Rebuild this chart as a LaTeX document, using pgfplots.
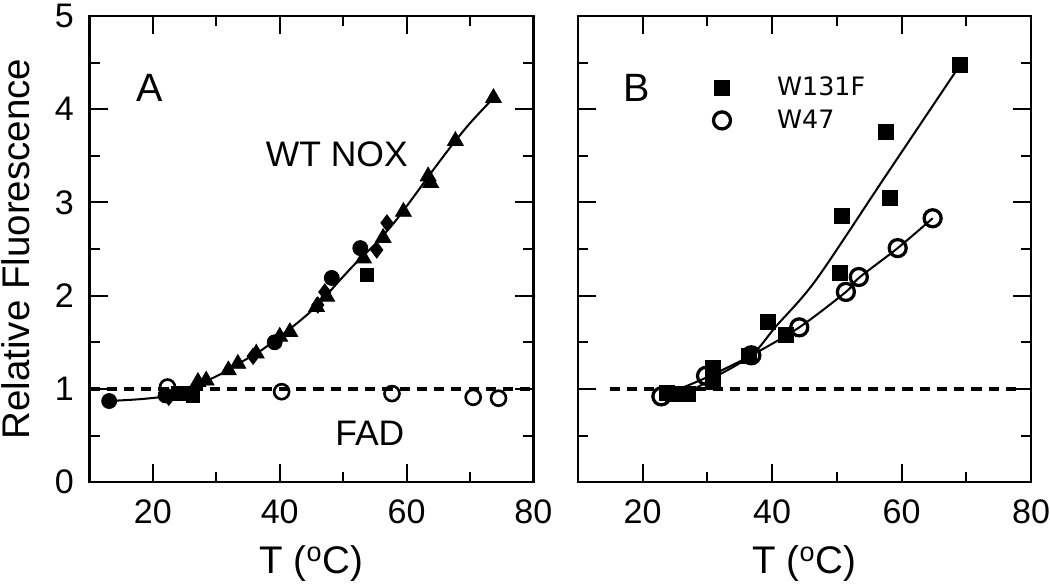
\documentclass[border=0pt]{standalone}
\usepackage{pgfplots}
\pgfplotsset{compat=1.18}
\usepackage{fontspec}
\setmainfont{Liberation Sans}
\newfontfamily\legfont{DejaVu Sans}
\begin{document}
\begin{tikzpicture}
\pgfplotsset{
  panel/.style={
    scale only axis, height=230pt,
    xmin=10, xmax=80, ymin=0, ymax=5,
    xtick={20,40,60,80}, minor xtick={30,50,70},
    ytick={0,1,2,3,4,5}, minor ytick={0.5,1.5,2.5,3.5,4.5},
    tick align=inside, major tick length=9pt, minor tick length=5pt,
    axis line style={line width=1.2pt},
    every tick/.style={black, line width=1pt},
    tick label style={font=\fontsize{16.8}{19}\selectfont, inner sep=0pt},
    xticklabel style={yshift=-8.4pt},
    yticklabel style={xshift=-7.5pt, inner ysep=2pt},
    /pgf/number format/assume math mode=true,
    label style={font=\fontsize{19}{22}\selectfont, inner sep=0pt},
    xlabel={T (\textsuperscript{o}C)},
    xlabel style={at={(axis description cs:0.5,0)}, anchor=base, yshift=-45.3pt, inner ysep=1.5pt},
  },
  fit/.style={black, line width=1pt, smooth, no marks},
  ref/.style={black, line width=2pt, dash pattern=on 5pt off 3.5pt, no marks},
}
% ---------- panel A ----------
\begin{axis}[panel, width=219pt, ylabel={Relative Fluorescence},
  ylabel style={at={(axis description cs:0,0.5)}, anchor=south, inner ysep=1pt, yshift=28pt}]
\addplot[ref] coordinates {(10,1) (80,1)};
\addplot[fit] coordinates {
  (13.1,0.87) (18,0.89) (22,0.92) (25,0.97) (28,1.07) (31,1.17) (34,1.29)
  (37,1.41) (40,1.56) (43,1.72) (46,1.90) (49,2.13) (52,2.35) (55,2.55)
  (58,2.78) (61,3.05) (64,3.33) (67,3.60) (70,3.85) (73.7,4.12)};
% filled circles
\addplot[only marks, mark=*, mark size=3.7pt, black] coordinates {
  (13.1,0.87) (22.0,0.93) (39.2,1.50) (48.2,2.19) (52.7,2.51)};
% squares
\addplot[only marks, mark=square*, mark size=3.3pt, black] coordinates {
  (24.0,0.95) (25.3,0.95) (26.3,0.93) (53.7,2.22)};
% diamonds
\addplot[only marks, mark=diamond*, mark size=4pt, black] coordinates {
  (22.5,0.91) (35.8,1.35) (46.0,1.90) (47.1,2.04) (55.3,2.49) (56.9,2.78)};
% triangles
\addplot[only marks, mark=triangle*, mark size=4.5pt, black] coordinates {
  (27.1,1.075) (28.4,1.09) (31.9,1.20) (33.4,1.27) (36.3,1.38) (40.0,1.56)
  (41.6,1.61) (45.8,1.88) (47.4,1.99) (53.2,2.40) (56.3,2.62) (59.5,2.90)
  (63.4,3.28) (63.8,3.21) (67.7,3.66) (73.7,4.12)};
% FAD open circles
\addplot[only marks, mark=o, mark size=3.7pt, line width=1.3pt, black, mark options={fill=white}] coordinates {
  (22.3,1.02) (40.3,0.97) (57.7,0.95) (70.5,0.91) (74.5,0.90)};
\node[font=\fontsize{19.5}{22}\selectfont] at (axis cs:19.5,4.23) {A};
\node[font=\fontsize{17.5}{20}\selectfont] at (axis cs:49,3.52) {WT NOX};
\node[font=\fontsize{17.5}{20}\selectfont] at (axis cs:54.2,0.52) {FAD};
\end{axis}
% ---------- panel B ----------
\begin{axis}[panel, width=223.6pt, xshift=240.9pt, yticklabels={},
  legend style={at={(0.285,0.888)}, anchor=north west, draw=none, fill=none,
    font=\legfont\fontsize{12.5}{15}\selectfont, row sep=1.5pt},
  legend cell align=left]
\addplot[ref, forget plot] coordinates {(14.9,1) (77.7,1)};
\addplot[fit, forget plot] coordinates {
  (22.9,0.93) (27,0.97) (31,1.12) (36.8,1.36) (40.6,1.67) (46.8,2.17)
  (57.6,3.29) (69,4.47)};
\addplot[fit, forget plot] coordinates {
  (22.9,0.92) (29.8,1.12) (36.8,1.36) (44.2,1.66) (51.4,2.04) (53.4,2.19)
  (59.4,2.51) (64.8,2.83)};
\addplot[only marks, mark=square*, mark size=3.7pt, black] coordinates {
  (23.8,0.96) (24.7,0.95) (27.0,0.95) (30.8,1.08) (30.8,1.225) (36.4,1.35)
  (39.3,1.72) (42.2,1.58) (50.4,2.24) (50.8,2.85) (57.6,3.76) (58.2,3.05)
  (69.0,4.47)};
\addlegendentry{\hspace{21pt}W131F}
\addplot[only marks, mark=o, mark size=4.2pt, line width=1.6pt, black, mark options={fill=white}] coordinates {
  (22.9,0.92) (29.8,1.14) (36.8,1.36) (44.2,1.66) (51.4,2.04) (53.4,2.20)
  (59.4,2.51) (64.8,2.83)};
\addlegendentry{\hspace{21pt}W47}
\node[font=\fontsize{19.5}{22}\selectfont] at (axis cs:19.1,4.23) {B};
\end{axis}
\end{tikzpicture}
\end{document}
